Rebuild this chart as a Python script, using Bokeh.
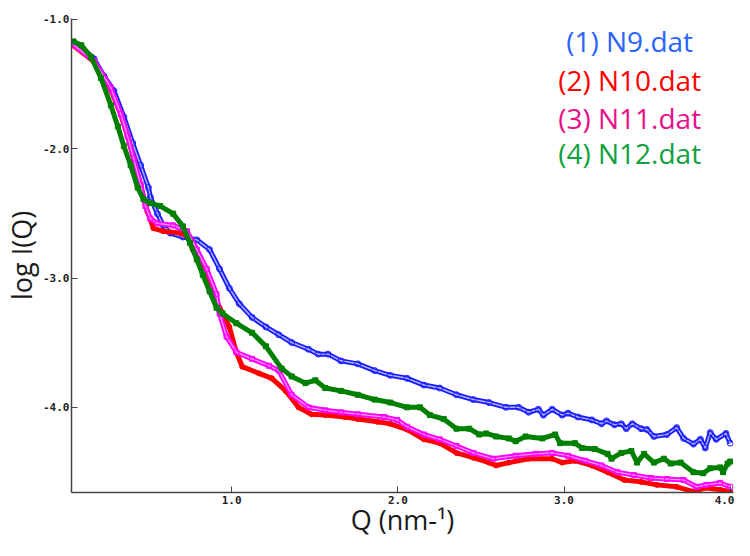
from bokeh.plotting import figure
from bokeh.models import Range1d, FixedTicker, PrintfTickFormatter, Label
from bokeh.embed import file_html
from bokeh.resources import INLINE

# ---- data ----
q_n9 = [0.048, 0.095, 0.172, 0.232, 0.291, 0.351, 0.404, 0.452, 0.499, 0.511, 0.553, 0.588,
        0.630, 0.707, 0.790, 0.867, 0.927, 0.986, 1.046, 1.123, 1.206, 1.283, 1.361, 1.462,
        1.521, 1.580, 1.658, 1.759, 1.860, 1.955, 2.056, 2.157, 2.252, 2.353, 2.454, 2.549,
        2.650, 2.727, 2.787, 2.846, 2.876, 2.929, 2.989, 3.024, 3.084, 3.167, 3.226, 3.256,
        3.304, 3.345, 3.375, 3.411, 3.464, 3.500, 3.541, 3.619, 3.678, 3.720, 3.779, 3.821,
        3.850, 3.880, 3.916, 3.975, 4.000]
logi_n9 = [-1.187, -1.217, -1.307, -1.441, -1.553, -1.755, -1.957, -2.129, -2.301, -2.376, -2.503, -2.593,
           -2.653, -2.683, -2.705, -2.780, -2.930, -3.079, -3.199, -3.304, -3.378, -3.438, -3.498, -3.550,
           -3.588, -3.588, -3.640, -3.663, -3.715, -3.752, -3.775, -3.827, -3.850, -3.902, -3.939, -3.962,
           -3.999, -3.999, -4.037, -4.014, -4.059, -4.014, -4.059, -4.044, -4.074, -4.096, -4.126, -4.104,
           -4.134, -4.126, -4.164, -4.126, -4.164, -4.171, -4.224, -4.209, -4.156, -4.239, -4.283, -4.246,
           -4.313, -4.194, -4.246, -4.201, -4.276]

q_n10 = [0.036, 0.172, 0.273, 0.333, 0.374, 0.410, 0.452, 0.493, 0.529, 0.588, 0.689, 0.731,
         0.766, 0.826, 0.885, 0.927, 0.986, 1.028, 1.064, 1.165, 1.242, 1.325, 1.402, 1.480,
         1.563, 1.682, 1.759, 1.878, 1.955, 2.056, 2.157, 2.252, 2.353, 2.454, 2.549, 2.591,
         2.668, 2.787, 2.929, 2.989, 3.066, 3.167, 3.262, 3.363, 3.464, 3.559, 3.678, 3.779,
         3.856, 3.939, 4.000]
logi_n10 = [-1.194, -1.329, -1.546, -1.740, -1.905, -2.077, -2.279, -2.488, -2.616, -2.638, -2.653, -2.675,
            -2.780, -2.930, -3.102, -3.229, -3.378, -3.573, -3.685, -3.737, -3.775, -3.872, -3.999, -4.052,
            -4.059, -4.074, -4.089, -4.111, -4.126, -4.171, -4.246, -4.276, -4.351, -4.388, -4.426, -4.448,
            -4.426, -4.396, -4.396, -4.426, -4.411, -4.448, -4.500, -4.560, -4.575, -4.598, -4.613, -4.650,
            -4.620, -4.635, -4.650]

q_n11 = [0.036, 0.172, 0.273, 0.333, 0.374, 0.410, 0.452, 0.481, 0.511, 0.553, 0.648, 0.731,
         0.790, 0.850, 0.909, 0.927, 0.969, 1.028, 1.123, 1.224, 1.283, 1.361, 1.462, 1.563,
         1.658, 1.759, 1.919, 1.996, 2.056, 2.157, 2.252, 2.353, 2.454, 2.573, 2.709, 2.828,
         2.929, 3.024, 3.125, 3.226, 3.321, 3.422, 3.523, 3.619, 3.720, 3.797, 3.856, 3.939,
         4.000]
logi_n11 = [-1.187, -1.322, -1.531, -1.733, -1.905, -2.077, -2.279, -2.444, -2.541, -2.578, -2.593, -2.638,
            -2.780, -2.930, -3.124, -3.274, -3.453, -3.573, -3.625, -3.678, -3.715, -3.902, -3.999, -4.022,
            -4.037, -4.052, -4.074, -4.096, -4.149, -4.209, -4.246, -4.298, -4.351, -4.396, -4.373, -4.358,
            -4.351, -4.373, -4.411, -4.448, -4.500, -4.523, -4.545, -4.553, -4.560, -4.613, -4.598, -4.583,
            -4.613]

q_n12 = [0.048, 0.095, 0.154, 0.214, 0.273, 0.315, 0.351, 0.392, 0.434, 0.469, 0.511, 0.570,
         0.648, 0.707, 0.749, 0.790, 0.826, 0.867, 0.909, 0.945, 1.028, 1.123, 1.206, 1.301,
         1.361, 1.444, 1.503, 1.563, 1.658, 1.759, 1.860, 1.955, 2.056, 2.133, 2.193, 2.276,
         2.353, 2.430, 2.490, 2.531, 2.591, 2.668, 2.709, 2.769, 2.870, 2.947, 2.977, 3.066,
         3.108, 3.185, 3.262, 3.286, 3.345, 3.405, 3.440, 3.482, 3.541, 3.601, 3.642, 3.702,
         3.779, 3.838, 3.880, 3.939, 3.957, 3.985, 4.000]
logi_n12 = [-1.172, -1.202, -1.292, -1.456, -1.666, -1.830, -1.980, -2.129, -2.301, -2.391, -2.421, -2.444,
            -2.503, -2.601, -2.728, -2.855, -2.975, -3.102, -3.229, -3.274, -3.349, -3.423, -3.528, -3.700,
            -3.760, -3.812, -3.790, -3.850, -3.872, -3.902, -3.939, -3.962, -3.999, -3.999, -4.059, -4.089,
            -4.164, -4.164, -4.209, -4.201, -4.224, -4.239, -4.261, -4.224, -4.239, -4.209, -4.276, -4.276,
            -4.313, -4.321, -4.358, -4.396, -4.351, -4.336, -4.426, -4.358, -4.426, -4.396, -4.433, -4.426,
            -4.500, -4.508, -4.470, -4.463, -4.500, -4.433, -4.418]

legend_labels = ["(1) N9.dat", "(2) N10.dat", "(3) N11.dat", "(4) N12.dat"]
x_ticks = [1.0, 2.0, 3.0, 4.0]
y_ticks = [-4.0, -3.0, -2.0, -1.0]
x_title = "Q (nm-\u00b9)"
y_title = "log I(Q)"

# ---- figure ----
p = figure(width=734, height=540, output_backend="svg", toolbar_location=None,
           x_range=Range1d(0.036, 4.02), y_range=Range1d(-4.657, -0.995),
           min_border_left=70, min_border_right=1, min_border_top=18, min_border_bottom=47)
p.outline_line_color = None
p.xgrid.grid_line_color = None
p.ygrid.grid_line_color = None
p.background_fill_color = "white"
p.border_fill_color = "white"

# N9: blue open circles
p.line(q_n9, logi_n9, color="#1a1aff", line_width=5, line_join="round")
p.line(q_n9, logi_n9, color="#a8b0ff", line_width=1.5, line_join="round")
p.scatter(q_n9, logi_n9, marker="circle", size=6, fill_color=None, line_color="#2020ff", line_width=1)
# N10: red filled circles
p.line(q_n10, logi_n10, color="#ff0000", line_width=5, line_join="round")
p.scatter(q_n10, logi_n10, marker="circle", size=5, color="#ff0000")
# N11: magenta open squares
p.line(q_n11, logi_n11, color="#ff00ff", line_width=5, line_join="round")
p.line(q_n11, logi_n11, color="#ffa0ff", line_width=1.2, line_join="round")
p.scatter(q_n11, logi_n11, marker="square", size=5, fill_color=None, line_color="#ff00ff", line_width=1)
# N12: green filled squares
p.line(q_n12, logi_n12, color="#008000", line_width=5, line_join="round")
p.scatter(q_n12, logi_n12, marker="square", size=5, color="#008000")

# axes
for ax in (p.xaxis[0], p.yaxis[0]):
    ax.axis_line_color = "#444444"
    ax.axis_line_width = 1.5
    ax.major_tick_line_color = "#444444"
    ax.major_tick_in = 6
    ax.major_tick_out = 0
    ax.minor_tick_line_color = None
    ax.major_label_text_font = "DejaVu Sans Mono"
    ax.major_label_text_font_style = "bold"
    ax.major_label_text_font_size = "11px"
    ax.major_label_text_color = "#222222"
    ax.formatter = PrintfTickFormatter(format="%.1f")
    ax.axis_label_text_font = "Open Sans"
    ax.axis_label_text_font_style = "normal"
    ax.axis_label_text_font_size = "27px"
    ax.axis_label_text_color = "#1a1a1a"

p.xaxis[0].ticker = FixedTicker(ticks=x_ticks)
p.yaxis[0].ticker = FixedTicker(ticks=y_ticks)
p.xaxis[0].major_label_standoff = 3
p.yaxis[0].major_label_standoff = 2
p.xaxis[0].axis_label_standoff = -6
p.yaxis[0].axis_label_standoff = 0
p.xaxis[0].axis_label = x_title
p.yaxis[0].axis_label = y_title

# legend text
legend_colors = ["#2864ff", "#ff0000", "#e8108a", "#10a040"]
legend_y = [-1.165, -1.473, -1.766, -2.036]
for txt, col, yy in zip(legend_labels, legend_colors, legend_y):
    p.add_layout(Label(x=3.395, y=yy, text=txt, text_color=col, text_font="Open Sans",
                       text_font_size="28px", text_align="center", text_baseline="middle"))

open("out.html", "w").write(file_html(p, INLINE))
